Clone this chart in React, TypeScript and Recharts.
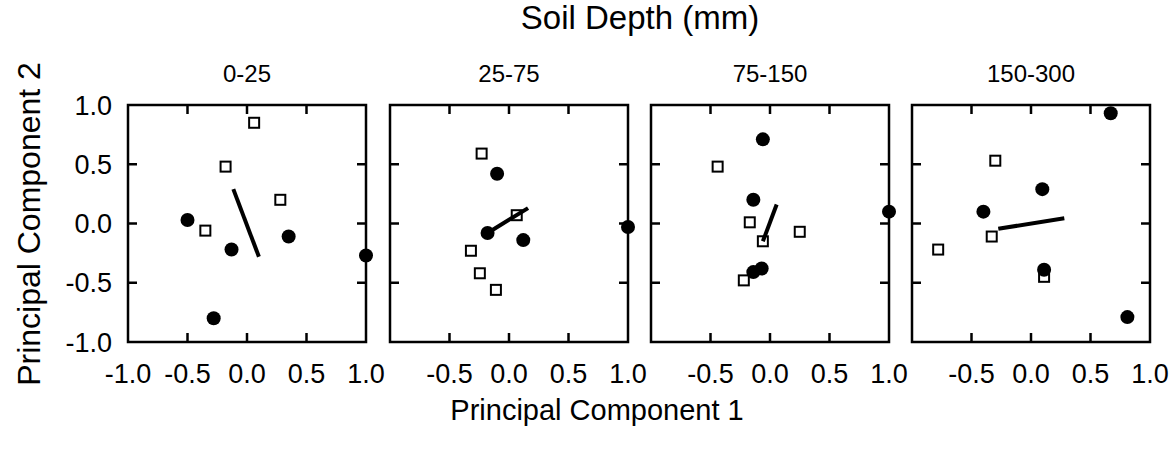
import { ScatterChart, Scatter, XAxis, YAxis, ReferenceArea } from "recharts";

// soil depth classes, one panel each
const depths = ["0-25", "25-75", "75-150", "150-300"];

const axisTicks = [-1, -0.5, 0, 0.5, 1];
const innerTicks = [-0.5, 0, 0.5];
const laterXTicks = [-0.5, 0, 0.5, 1];

// filled circles / open squares / mean vector for each depth
const filled0to25 = [
  { x: -0.5, y: 0.03 },
  { x: -0.13, y: -0.22 },
  { x: 0.35, y: -0.11 },
  { x: -0.28, y: -0.8 },
  { x: 1.0, y: -0.27 },
];
const open0to25 = [
  { x: 0.06, y: 0.85 },
  { x: -0.18, y: 0.48 },
  { x: 0.28, y: 0.2 },
  { x: -0.35, y: -0.06 },
];
const vector0to25 = [
  { x: -0.115, y: 0.29 },
  { x: 0.1, y: -0.28 },
];

const filled25to75 = [
  { x: -0.1, y: 0.42 },
  { x: -0.18, y: -0.08 },
  { x: 0.12, y: -0.14 },
  { x: 1.0, y: -0.03 },
];
const open25to75 = [
  { x: -0.23, y: 0.59 },
  { x: 0.065, y: 0.07 },
  { x: -0.32, y: -0.23 },
  { x: -0.245, y: -0.42 },
  { x: -0.11, y: -0.56 },
];
const vector25to75 = [
  { x: -0.18, y: -0.08 },
  { x: 0.16, y: 0.13 },
];

const filled75to150 = [
  { x: -0.06, y: 0.71 },
  { x: -0.14, y: 0.2 },
  { x: -0.07, y: -0.38 },
  { x: -0.14, y: -0.41 },
  { x: 1.0, y: 0.1 },
];
const open75to150 = [
  { x: -0.44, y: 0.48 },
  { x: -0.17, y: 0.01 },
  { x: -0.06, y: -0.15 },
  { x: 0.25, y: -0.07 },
  { x: -0.22, y: -0.48 },
];
const vector75to150 = [
  { x: -0.06, y: -0.15 },
  { x: 0.056, y: 0.16 },
];

const filled150to300 = [
  { x: 0.67, y: 0.93 },
  { x: 0.095, y: 0.29 },
  { x: -0.4, y: 0.1 },
  { x: 0.11, y: -0.39 },
  { x: 0.81, y: -0.79 },
];
const open150to300 = [
  { x: -0.3, y: 0.53 },
  { x: -0.33, y: -0.11 },
  { x: -0.78, y: -0.22 },
  { x: 0.11, y: -0.45 },
];
const vector150to300 = [
  { x: -0.275, y: -0.045 },
  { x: 0.28, y: 0.045 },
];

const filledSets = [filled0to25, filled25to75, filled75to150, filled150to300];
const openSets = [open0to25, open25to75, open75to150, open150to300];
const vectorSets = [vector0to25, vector25to75, vector75to150, vector150to300];

const FONT = '"Liberation Sans", Arial, sans-serif';
const boxLefts = [128, 390, 651, 912];
const BOX_TOP = 105;
const BOX_W = 238;
const BOX_H = 237;
const TICK = 9;
const X_GAP = 22;
const Y_GAP = 16;
const TICK_FONT = 27;

const Dot = (p: any) => <circle cx={p.cx} cy={p.cy} r={7} fill="#000" />;
const Square = (p: any) => (
  <rect x={p.cx - 5} y={p.cy - 5} width={10} height={10} fill="#fff" stroke="#000" strokeWidth={2} />
);
const NoMark = () => <g />;

// frame of the [-1,1] x [-1,1] area with inward ticks on all four sides
const Frame = (p: any) => {
  const { x, y, width, height } = p;
  const at = (v: number, size: number) => ((v + 1) / 2) * size;
  return (
    <g stroke="#000" strokeWidth={2.5} fill="none">
      <rect x={x} y={y} width={width} height={height} />
      {innerTicks.map((v) => {
        const tx = x + at(v, width);
        const ty = y + height - at(v, height);
        return (
          <g key={v}>
            <line x1={tx} x2={tx} y1={y + height} y2={y + height - TICK} />
            <line x1={tx} x2={tx} y1={y} y2={y + TICK} />
            <line x1={x} x2={x + TICK} y1={ty} y2={ty} />
            <line x1={x + width} x2={x + width - TICK} y1={ty} y2={ty} />
          </g>
        );
      })}
    </g>
  );
};

const tickStyle = { fill: "#000", fontSize: TICK_FONT, fontFamily: FONT };
const fmt = (v: number) => v.toFixed(1);

function Panel({ i }: { i: number }) {
  const first = i === 0;
  const yw = first ? 128 : 0;
  const ml = first ? 0 : 6;
  const mt = 20;
  const mr = 28;
  const xh = 60;
  const width = ml + yw + BOX_W + mr;
  const height = mt + BOX_H + xh;
  return (
    <div style={{ position: "absolute", left: boxLefts[i] - yw - ml, top: BOX_TOP - mt }}>
      <ScatterChart width={width} height={height} margin={{ top: mt, right: mr, bottom: 0, left: ml }}>
        <XAxis
          type="number"
          dataKey="x"
          domain={[-1, 1]}
          ticks={first ? axisTicks : laterXTicks}
          interval={0}
          height={xh}
          tickSize={0}
          tickMargin={X_GAP}
          tickFormatter={fmt}
          axisLine={false}
          tickLine={false}
          tick={tickStyle}
        />
        <YAxis
          type="number"
          dataKey="y"
          domain={[-1, 1]}
          ticks={axisTicks}
          interval={0}
          width={yw}
          tickSize={0}
          tickMargin={Y_GAP}
          tickFormatter={fmt}
          axisLine={false}
          tickLine={false}
          tick={first ? tickStyle : false}
        />
        <ReferenceArea x1={-1} x2={1} y1={-1} y2={1} shape={Frame} ifOverflow="visible" />
        <Scatter data={openSets[i]} shape={Square} isAnimationActive={false} />
        <Scatter data={filledSets[i]} shape={Dot} isAnimationActive={false} />
        <Scatter
          data={vectorSets[i]}
          shape={NoMark}
          line={{ stroke: "#000", strokeWidth: 4 }}
          isAnimationActive={false}
        />
      </ScatterChart>
    </div>
  );
}

const text = (extra: any) => ({
  position: "absolute" as const,
  fontFamily: FONT,
  color: "#000",
  whiteSpace: "nowrap" as const,
  lineHeight: 1,
  ...extra,
});

export default function App() {
  return (
    <div style={{ position: "absolute", left: 0, top: 0, width: 1173, height: 451, background: "#fff", overflow: "hidden" }}>
      <div style={text({ left: 640, top: 1, fontSize: 33, transform: "translateX(-50%)" })}>Soil Depth (mm)</div>
      {depths.map((d, i) => (
        <div key={d} style={text({ left: boxLefts[i] + BOX_W / 2, top: 62, fontSize: 24, transform: "translateX(-50%)" })}>
          {d}
        </div>
      ))}
      {depths.map((d, i) => (
        <Panel key={d} i={i} />
      ))}
      <div style={text({ left: 597, top: 396, fontSize: 29, transform: "translateX(-50%)" })}>Principal Component 1</div>
      <div
        style={text({
          left: 29,
          top: 224,
          fontSize: 32,
          transform: "translate(-50%, -50%) rotate(-90deg)",
        })}
      >
        Principal Component 2
      </div>
    </div>
  );
}
